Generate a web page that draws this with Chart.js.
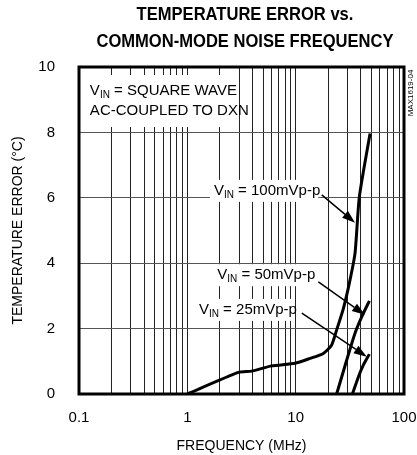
<!DOCTYPE html>
<html>
<head>
    <title>Temperature Error vs. Common-Mode Noise Frequency</title>
    <script src="https://cdn.jsdelivr.net/npm/chart.js"></script>
    <style>
        body { margin: 0; background: #fff; }
        .chart-container { width: 417px; height: 455px; position: relative; }
    </style>
</head>
<body>
    <div class="chart-container">
        <canvas id="errChart"></canvas>
    </div>

    <script>
    // values
    const freq100 = [1, 2.96, 3.93, 6.0, 9.87, 13.6, 18.0, 21.5, 23.9, 27.6, 31.3, 35.3, 38.7, 48.6];
    const err100  = [0, 0.66, 0.70, 0.86, 0.94, 1.09, 1.24, 1.5, 1.96, 2.62, 3.39, 4.3, 6.03, 7.97];
    const freq50  = [23.9, 29.6, 35.3, 40.7, 47.9];
    const err50   = [0, 1.04, 1.86, 2.36, 2.85];
    const freq25  = [33.4, 38.0, 42.2, 47.9];
    const err25   = [0, 0.53, 0.89, 1.22];

    const xTickValues = [0.1, 0.2, 0.3, 0.4, 0.5, 0.6, 0.7, 0.8, 0.9,
                         1, 2, 3, 4, 5, 6, 7, 8, 9,
                         10, 20, 30, 40, 50, 60, 70, 80, 90, 100];
    const xTickLabels = ['0.1', '1', '10', '100'];

    const FONT = '"Liberation Sans", Arial, sans-serif';

    function pts(xs, ys) {
        return xs.map((x, i) => ({ x: x, y: ys[i] }));
    }

    // draws "V" + subscript "IN" + rest, left aligned at x, baseline y
    function drawVin(ctx, x, y, rest) {
        ctx.textBaseline = 'alphabetic';
        ctx.textAlign = 'left';
        ctx.font = '15px ' + FONT;
        ctx.fillText('V', x, y);
        let w = ctx.measureText('V').width;
        ctx.font = '10px ' + FONT;
        ctx.fillText('IN', x + w, y + 3);
        w += ctx.measureText('IN').width;
        ctx.font = '15px ' + FONT;
        ctx.fillText(rest, x + w, y);
        return w + ctx.measureText(rest).width;
    }

    function arrow(ctx, x1, y1, x2, y2) {
        const a = Math.atan2(y2 - y1, x2 - x1);
        const len = 13, half = 4.5;
        const bx = x2 - len * Math.cos(a), by = y2 - len * Math.sin(a);
        ctx.strokeStyle = '#000';
        ctx.lineWidth = 1.5;
        ctx.beginPath();
        ctx.moveTo(x1, y1);
        ctx.lineTo(bx, by);
        ctx.stroke();
        ctx.beginPath();
        ctx.moveTo(x2, y2);
        ctx.lineTo(bx + half * Math.sin(a), by - half * Math.cos(a));
        ctx.lineTo(bx - half * Math.sin(a), by + half * Math.cos(a));
        ctx.closePath();
        ctx.fill();
    }

    // label anchors in data units (freq, error)
    const labels = [
        { text: ' = 100mVp-p', at: [1.76, 6.09], from: [17.4, 6.09], to: [35.3, 5.24] },
        { text: ' = 50mVp-p',  at: [1.89, 3.51], from: [16.2, 3.43], to: [43.6, 2.42] },
        { text: ' = 25mVp-p',  at: [1.28, 2.45], from: [11.4, 2.47], to: [45.3, 1.14] }
    ];

    const decorPlugin = {
        id: 'decor',
        beforeDatasetsDraw(chart) {
            const { ctx, chartArea: a, scales: { x, y } } = chart;
            ctx.save();
            ctx.fillStyle = '#fff';
            // white boxes behind the text
            ctx.fillRect(a.left + 2, a.top + 8, 156, 52);
            labels.forEach(l => {
                const px = x.getPixelForValue(l.at[0]);
                const py = y.getPixelForValue(l.at[1]);
                ctx.font = '15px ' + FONT;
                const w = ctx.measureText('V' + l.text).width + 12;
                ctx.fillRect(px - 4, py - 15, w, 22);
            });
            ctx.restore();
        },
        afterDatasetsDraw(chart) {
            const { ctx, chartArea: a, scales: { x, y } } = chart;
            ctx.save();
            ctx.fillStyle = '#000';
            drawVin(ctx, x.getPixelForValue(0.126), y.getPixelForValue(9.14), ' = SQUARE WAVE');
            ctx.font = '15px ' + FONT;
            ctx.fillText('AC-COUPLED TO DXN', x.getPixelForValue(0.126), y.getPixelForValue(8.53));

            labels.forEach(l => {
                drawVin(ctx, x.getPixelForValue(l.at[0]), y.getPixelForValue(l.at[1]), l.text);
                arrow(ctx, x.getPixelForValue(l.from[0]), y.getPixelForValue(l.from[1]),
                      x.getPixelForValue(l.to[0]), y.getPixelForValue(l.to[1]));
            });

            // frame
            ctx.strokeStyle = '#000';
            ctx.lineWidth = 3;
            ctx.strokeRect(a.left, a.top, a.right - a.left, a.bottom - a.top);

            // title, squeezed a little to mimic the condensed face
            ctx.save();
            ctx.translate(245, 0);
            ctx.scale(0.92, 1);
            ctx.textAlign = 'center';
            ctx.textBaseline = 'middle';
            ctx.font = 'bold 18px ' + FONT;
            ctx.fillText('TEMPERATURE ERROR vs.', 0, 15);
            ctx.fillText('COMMON-MODE NOISE FREQUENCY', 0, 42);
            ctx.restore();

            // figure code
            ctx.translate(411, 93);
            ctx.rotate(-Math.PI / 2);
            ctx.textAlign = 'center';
            ctx.textBaseline = 'middle';
            ctx.font = '8px ' + FONT;
            ctx.fillText('MAX1619-04', 0, 0);
            ctx.restore();
        }
    };

    const lineStyle = {
        borderColor: '#000',
        backgroundColor: '#000',
        borderWidth: 3,
        pointRadius: 0,
        fill: false,
        tension: 0.2
    };

    const ctx = document.getElementById('errChart').getContext('2d');
    new Chart(ctx, {
        type: 'line',
        data: {
            datasets: [
                Object.assign({ label: '100mVp-p', data: pts(freq100, err100) }, lineStyle),
                Object.assign({ label: '50mVp-p', data: pts(freq50, err50) }, lineStyle),
                Object.assign({ label: '25mVp-p', data: pts(freq25, err25) }, lineStyle)
            ]
        },
        options: {
            responsive: true,
            maintainAspectRatio: false,
            animation: false,
            layout: { padding: { top: 67, right: 13, left: 0, bottom: 0 } },
            plugins: { legend: { display: false }, tooltip: { enabled: false } },
            scales: {
                x: {
                    type: 'logarithmic',
                    min: 0.1,
                    max: 100,
                    afterBuildTicks: axis => { axis.ticks = xTickValues.map(v => ({ value: v })); },
                    afterFit: scale => {
                        scale.height = 61;
                        scale.paddingLeft = 0;
                        scale.paddingRight = 0;
                    },
                    grid: { color: '#222', lineWidth: 1, drawTicks: false },
                    border: { display: false },
                    ticks: {
                        autoSkip: false,
                        maxRotation: 0,
                        padding: 15,
                        color: '#000',
                        font: { family: FONT, size: 15 },
                        callback: v => xTickLabels.includes(String(v)) ? String(v) : ''
                    },
                    title: {
                        display: true,
                        text: 'FREQUENCY (MHz)',
                        color: '#000',
                        font: { family: FONT, size: 14 },
                        padding: { top: 5, bottom: 0 }
                    }
                },
                y: {
                    min: 0,
                    max: 10,
                    afterFit: scale => { scale.width = 79; },
                    grid: { color: '#555', lineWidth: 1, drawTicks: false },
                    border: { display: false },
                    ticks: {
                        stepSize: 2,
                        padding: 24,
                        color: '#000',
                        font: { family: FONT, size: 15 }
                    },
                    title: {
                        display: true,
                        text: 'TEMPERATURE ERROR (°C)',
                        color: '#000',
                        font: { family: FONT, size: 14 },
                        padding: { top: 10, bottom: 0 }
                    }
                }
            }
        },
        plugins: [decorPlugin]
    });
    </script>
</body>
</html>
